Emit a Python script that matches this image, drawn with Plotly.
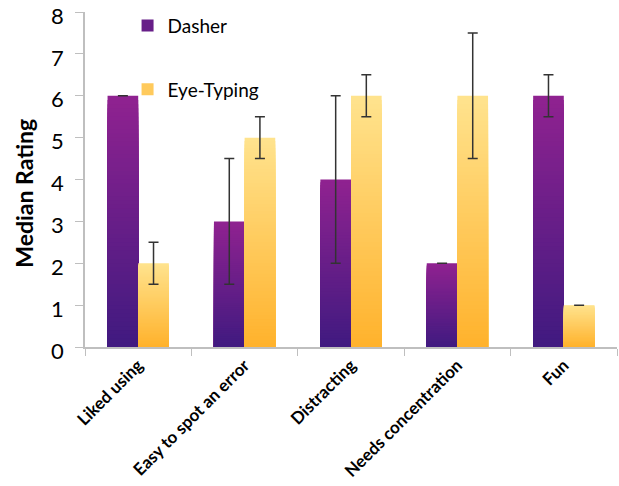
import plotly.graph_objects as go

categories = ["Liked using", "Easy to spot an error", "Distracting", "Needs concentration", "Fun"]
dasher = [6, 3, 4, 2, 6]
dasher_hi = [6, 4.5, 6, 2, 6.5]
dasher_lo = [6, 1.5, 2, 2, 5.5]
eye = [2, 5, 6, 6, 1]
eye_hi = [2.5, 5.5, 6.5, 7.5, 1]
eye_lo = [1.5, 4.5, 5.5, 4.5, 1]
y_title = "Median Rating"

FONT = "Lato"
N = 60
BW = 0.288


def lerp(c1, c2, f):
    return "rgb(%d,%d,%d)" % tuple(round(a + (b - a) * f) for a, b in zip(c1, c2))


series = [
    dict(name="Dasher", vals=dasher, hi=dasher_hi, lo=dasher_lo, offset=-BW,
         bottom=(64, 26, 128), top=(144, 34, 144)),
    dict(name="Eye-Typing", vals=eye, hi=eye_hi, lo=eye_lo, offset=0.0,
         bottom=(255, 178, 44), top=(255, 227, 142)),
]

fig = go.Figure()
# gradient: overlapping bars from the baseline, tallest (top colour) first
for s in series:
    for k in range(N):
        frac_top = (N - k) / N
        f = (N - k - 0.5) / N
        fig.add_trace(go.Bar(
            x=categories,
            y=[v * frac_top for v in s["vals"]],
            offset=s["offset"], width=BW,
            marker=dict(color=lerp(s["bottom"], s["top"], f), line=dict(width=0)),
            name=s["name"], legendgroup=s["name"],
            showlegend=(k == N // 2),
            hoverinfo="skip",
        ))

for s in series:
    fig.add_trace(go.Bar(
        x=categories, y=s["vals"], offset=s["offset"], width=BW,
        marker=dict(color="rgba(0,0,0,0)", line=dict(width=0)),
        error_y=dict(type="data", symmetric=False,
                     array=[h - v for h, v in zip(s["hi"], s["vals"])],
                     arrayminus=[v - l for l, v in zip(s["lo"], s["vals"])],
                     color="#333333", thickness=1.5, width=5),
        showlegend=False, name=s["name"] + " error",
    ))

fig.add_annotation(
    text=y_title, textangle=-90, xref="paper", yref="paper",
    x=-0.115, y=0.46, xanchor="center", yanchor="middle", showarrow=False,
    font=dict(family=FONT, size=23, weight="bold", color="#000000"),
)

fig.update_layout(
    width=619, height=486,
    barmode="overlay",
    plot_bgcolor="white", paper_bgcolor="white",
    margin=dict(l=85, r=2, t=12, b=139),
    font=dict(family=FONT, color="#000000"),
    legend=dict(x=0.08, y=1.016, xanchor="left", yanchor="top",
                font=dict(family=FONT, size=19), tracegroupgap=36,
                bgcolor="rgba(0,0,0,0)"),
    xaxis=dict(
        type="category", showgrid=False, showline=True, linecolor="#BFBFBF", linewidth=1.5,
        ticks="outside", tickson="boundaries", ticklen=7, tickcolor="#BFBFBF",
        tickangle=-45, tickfont=dict(family=FONT, size=17, weight="bold"),
        range=[-0.5, 4.5], automargin=False,
    ),
    yaxis=dict(
        range=[0, 8], dtick=1, showgrid=False, showline=True, linecolor="#BFBFBF", linewidth=1.5,
        ticks="outside", ticklen=8, tickcolor="#BFBFBF", ticklabelstandoff=7,
        ticklabelshift=4, ticklabeloverflow="allow",
        tickfont=dict(family=FONT, size=22),
        zeroline=False, automargin=False,
    ),
)

fig.write_html("out.html", config={"displayModeBar": False},
               post_script="document.body.style.margin='0px';")
